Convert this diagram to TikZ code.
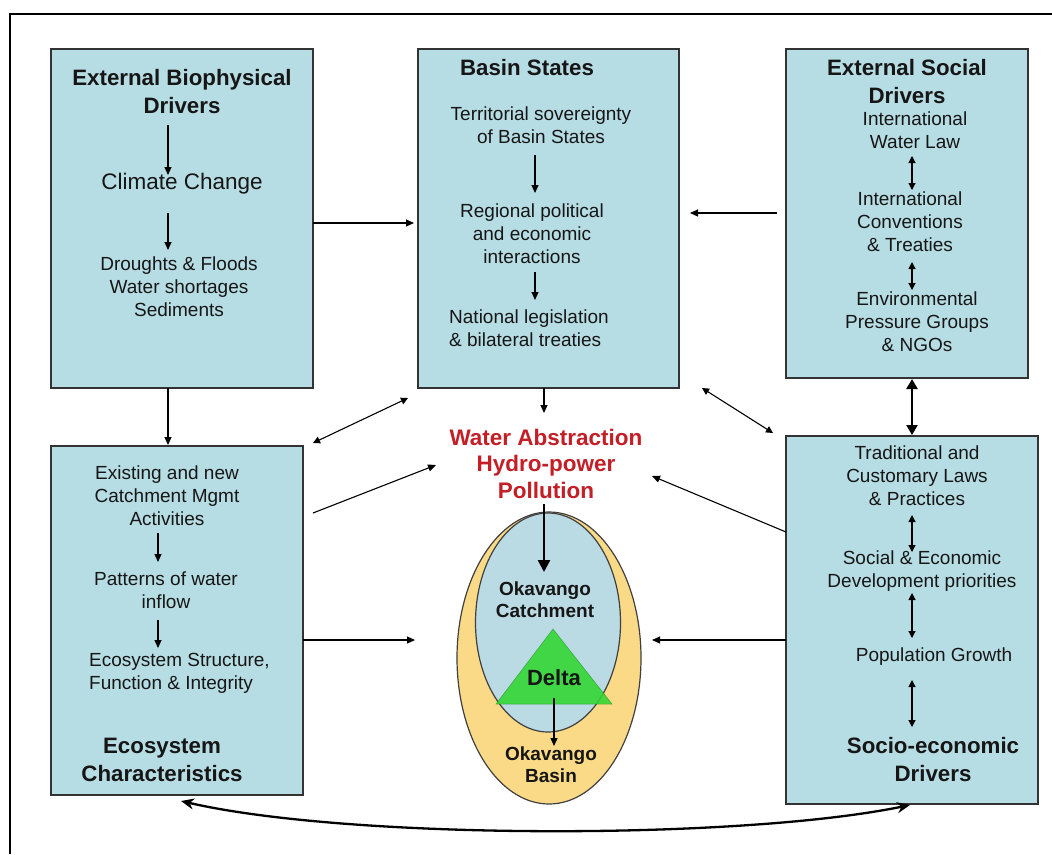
\documentclass[tikz,border=0pt]{standalone}
\usepackage{fontspec}
\setmainfont{Liberation Sans}
\usetikzlibrary{arrows.meta,shapes.geometric}
\definecolor{boxblue}{RGB}{183,221,228}
\definecolor{ellblue}{RGB}{186,218,228}
\definecolor{ellyellow}{RGB}{250,218,135}
\definecolor{deltagreen}{RGB}{48,214,48}
\definecolor{redtxt}{RGB}{196,30,38}
\definecolor{txt}{RGB}{22,22,22}
\begin{document}
\begin{tikzpicture}[x=1pt,y=-1pt,
  panel/.style={draw=black!80, line width=1.3pt, fill=boxblue, inner sep=0pt},
  body/.style={font=\fontsize{19}{22.8}\selectfont, align=center, inner sep=0pt, text=txt},
  ttl/.style={font=\fontsize{22.3}{28}\selectfont\bfseries, align=center, inner sep=0pt, text=txt},
  arr/.style={-{Triangle[length=8pt,width=7pt]}, line width=1.1pt},
  darr/.style={{Triangle[length=7pt,width=7pt]}-{Triangle[length=7pt,width=7pt]}, line width=1.1pt},
  thickarr/.style={-{Triangle[length=12pt,width=12pt]}, line width=2.4pt},
  thickdarr/.style={{Triangle[length=10pt,width=11pt]}-{Triangle[length=10pt,width=11pt]}, line width=2.4pt},
  ell/.style={ellipse, draw=black!75, line width=1.2pt, inner sep=0pt}]
\useasboundingbox (0,0) rectangle (1052,854);
\fill[white] (0,0) rectangle (1052,854);
% outer frame (partly visible)
\draw[line width=2.6pt] (10,854) -- (10,14) -- (1052,14);

% boxes
\node[panel, minimum width=262pt, minimum height=339pt] (ebd) at (182,218.5) {};
\node[panel, minimum width=261pt, minimum height=339pt] (basin) at (548.5,218.5) {};
\node[panel, minimum width=242pt, minimum height=329pt] (esd) at (907,213.5) {};
\node[panel, minimum width=252pt, minimum height=349pt] (eco) at (177,620.5) {};
\node[panel, minimum width=252pt, minimum height=368pt] (soc) at (912,620) {};

% ellipses and delta
\node[ell, fill=ellyellow, minimum width=184pt, minimum height=292pt] (basinell) at (549,658) {};
\node[ell, fill=ellblue, minimum width=145pt, minimum height=219pt] (catchell) at (548,622.5) {};
\coordinate (tA) at (553,629);
\coordinate (tB) at (496,704);
\coordinate (tC) at (612,704);
\fill[deltagreen, fill opacity=0.88] (tA) -- (tB) -- (tC) -- cycle;
\draw[deltagreen!60!black, line width=0.5pt, opacity=0.6] (tA) -- (tB) -- (tC) -- cycle;

% External Biophysical Drivers
\node[ttl] (ebdT) at (182,92) {External Biophysical\\Drivers};
\node[font=\fontsize{22.5}{26}\selectfont, inner sep=0pt, text=txt] (clim) at (182,184) {Climate Change};
\node[body] (drought) at (179,287) {Droughts \& Floods\\Water shortages\\Sediments};
\coordinate (e1a) at (168,125); \coordinate (e1b) at (168,175);
\coordinate (e2a) at (168,213); \coordinate (e2b) at (168,250);
\draw[arr] (e1a) -- (e1b);
\draw[arr] (e2a) -- (e2b);

% Basin States
\node[ttl] (basinT) at (527,68) {Basin States};
\node[body] (terr) at (541,125) {Territorial sovereignty\\of Basin States};
\node[body] (regi) at (532,234) {Regional political\\and economic\\interactions};
\node[body, align=left, anchor=west] (nat) at (449,328.5) {National legislation\\\& bilateral treaties};
\coordinate (b1a) at (535,155); \coordinate (b1b) at (535,193);
\coordinate (b2a) at (535,272); \coordinate (b2b) at (535,300);
\draw[arr] (b1a) -- (b1b);
\draw[arr] (b2a) -- (b2b);

% External Social Drivers
\node[ttl] (esdT) at (907,81.5) {External Social\\Drivers};
\node[body] (iwl) at (915,130) {International\\Water Law};
\node[body] (ict) at (910,221.5) {International\\Conventions\\\& Treaties};
\node[body] (env) at (917,321.5) {Environmental\\Pressure Groups\\\& NGOs};
\coordinate (s1a) at (912,156); \coordinate (s1b) at (912,190);
\coordinate (s2a) at (912,262); \coordinate (s2b) at (912,290);
\draw[darr] (s1a) -- (s1b);
\draw[darr] (s2a) -- (s2b);

% Ecosystem Characteristics
\node[body] (exist) at (167,495.5) {Existing and new\\Catchment Mgmt\\Activities};
\node[body] (patt) at (166,590.5) {Patterns of water\\inflow};
\node[body, align=left, anchor=west] (struct) at (89,673) {Ecosystem Structure,\\Function \& Integrity};
\node[ttl] (ecoT) at (162,760) {Ecosystem\\Characteristics};
\coordinate (c1a) at (158,533); \coordinate (c1b) at (158,562);
\coordinate (c2a) at (158,620); \coordinate (c2b) at (158,648);
\draw[arr] (c1a) -- (c1b);
\draw[arr] (c2a) -- (c2b);

% Socio-economic Drivers
\node[body] (trad) at (917,476) {Traditional and\\Customary Laws\\\& Practices};
\node[body] (socec) at (922,571) {Social \& Economic\\Development priorities};
\node[body] (pop) at (934,657) {Population Growth};
\node[ttl] (socT) at (933,760) {Socio-economic\\Drivers};
\coordinate (d1a) at (912,515); \coordinate (d1b) at (912,552);
\coordinate (d2a) at (912,593); \coordinate (d2b) at (912,638);
\coordinate (d3a) at (912,680); \coordinate (d3b) at (912,727);
\draw[darr] (d1a) -- (d1b);
\draw[darr] (d2a) -- (d2b);
\draw[darr] (d3a) -- (d3b);

% centre texts
\node[font=\fontsize{22.5}{26.5}\selectfont\bfseries, text=redtxt, align=center, inner sep=0pt] (press) at (546,463.5) {Water Abstraction\\Hydro-power\\Pollution};
\node[font=\fontsize{19}{22}\selectfont\bfseries, text=txt, align=center, inner sep=0pt] (catchT) at (545,600) {Okavango\\Catchment};
\node[font=\fontsize{22}{26}\selectfont\bfseries, text=txt, inner sep=0pt] (deltaT) at (554,678) {Delta};
\node[font=\fontsize{19}{22}\selectfont\bfseries, text=txt, align=center, inner sep=0pt] (basinT2) at (551,765) {Okavango\\Basin};

% connectors between panels
\coordinate (p1a) at (313,223); \coordinate (p1b) at (414,223);
\coordinate (p2a) at (777,213); \coordinate (p2b) at (690,213);
\coordinate (p3a) at (168,388); \coordinate (p3b) at (168,445);
\coordinate (p4a) at (544,388); \coordinate (p4b) at (544,413);
\coordinate (p5a) at (313,443); \coordinate (p5b) at (408,398);
\coordinate (p6a) at (702,388); \coordinate (p6b) at (773,433);
\coordinate (p7a) at (313,513); \coordinate (p7b) at (436,465);
\coordinate (p8a) at (786,532); \coordinate (p8b) at (652,476);
\coordinate (p9a) at (303,640); \coordinate (p9b) at (415,640);
\coordinate (p10a) at (786,640); \coordinate (p10b) at (652,640);
\coordinate (p11a) at (544,504); \coordinate (p11b) at (544,572);
\coordinate (p12a) at (554,698); \coordinate (p12b) at (554,746);
\coordinate (p13a) at (912,379); \coordinate (p13b) at (912,435);
\coordinate (cL) at (181,801); \coordinate (cR) at (910,805);

\draw[arr] (p1a) -- (p1b);
\draw[arr] (p2a) -- (p2b);
\draw[arr] (p3a) -- (p3b);
\draw[arr] (p4a) -- (p4b);
\draw[darr] (p5a) -- (p5b);
\draw[darr] (p6a) -- (p6b);
\draw[arr] (p7a) -- (p7b);
\draw[arr] (p8a) -- (p8b);
\draw[arr] (p9a) -- (p9b);
\draw[arr] (p10a) -- (p10b);
\draw[thickarr] (p11a) -- (p11b);
\draw[arr] (p12a) -- (p12b);
\draw[thickdarr] (p13a) -- (p13b);
\draw[{Stealth[length=13pt,width=11pt]}-{Stealth[length=13pt,width=11pt]}, line width=2.3pt] (cL) .. controls (350,840) and (740,840) .. (cR);
\end{tikzpicture}
\end{document}
